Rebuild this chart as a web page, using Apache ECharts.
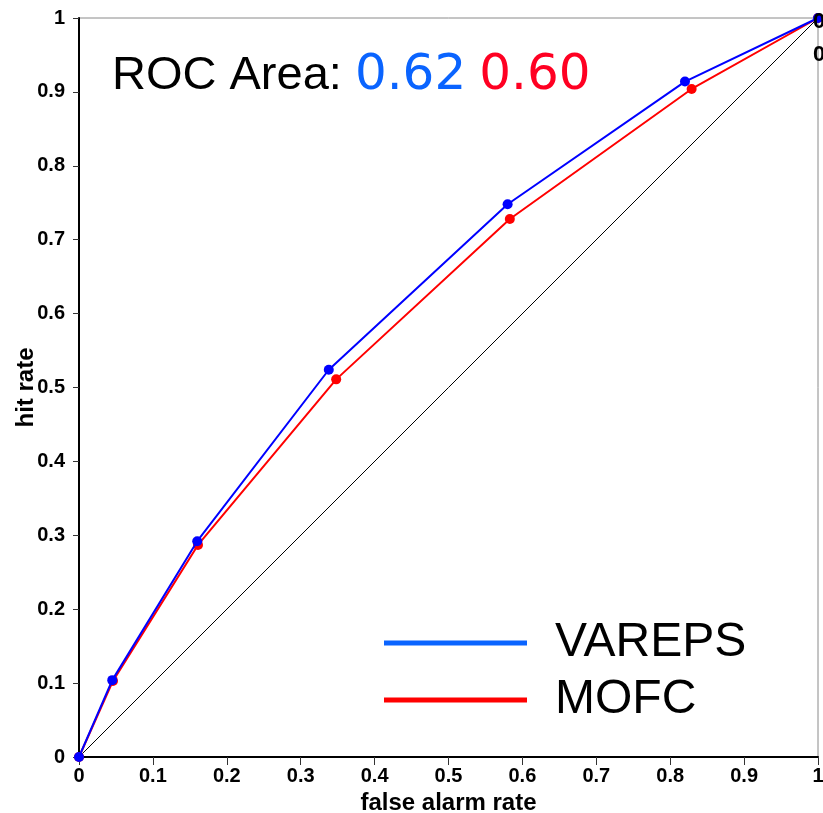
<!DOCTYPE html>
<html>
<head>
<meta charset="utf-8">
<script src="https://cdn.jsdelivr.net/npm/echarts@6/dist/echarts.min.js"></script>
<style>html,body{margin:0;padding:0;background:#fff}#c{width:823px;height:813px}</style>
</head>
<body>
<div id="c"></div>
<script>
var seriesNames = ['VAREPS', 'MOFC'];
var varepsPoints = [[0,0],[0.045,0.104],[0.160,0.292],[0.338,0.524],[0.580,0.748],[0.820,0.914],[1,1]];
var mofcPoints = [[0,0],[0.046,0.103],[0.161,0.287],[0.348,0.511],[0.583,0.728],[0.829,0.904],[1,1]];
var diagonal = [[0,0],[1,1]];
var rocAreas = ['0.62', '0.60'];
var cornerPoint = [1, 1];
var cornerLabels = ['0', '0'];

var chart = echarts.init(document.getElementById('c'));
chart.setOption({
  animation: false,
  backgroundColor: '#fff',
  grid: { left: 79, right: 5, top: 18, bottom: 56, containLabel: false, outerBoundsMode: 'none',
    show: true, borderColor: '#8a8a8a', borderWidth: 1 },
  xAxis: {
    type: 'value', min: 0, max: 1, interval: 0.1,
    name: 'false alarm rate', nameLocation: 'middle', nameGap: 29,
    nameTextStyle: { fontFamily: 'Liberation Sans', fontWeight: 'bold', fontSize: 24, color: '#000' },
    axisLine: { show: true, lineStyle: { color: '#000', width: 2 } },
    axisTick: { show: true, length: 8, lineStyle: { color: '#333', width: 1 } },
    axisLabel: { fontFamily: 'Liberation Sans', fontWeight: 'bold', fontSize: 20, color: '#000', margin: 9 },
    splitLine: { show: false }
  },
  yAxis: {
    type: 'value', min: 0, max: 1, interval: 0.1,
    name: 'hit rate', nameLocation: 'middle', nameGap: 41, nameRotate: 90, nameMoveOverlap: false,
    nameTextStyle: { fontFamily: 'Liberation Sans', fontWeight: 'bold', fontSize: 24, color: '#000' },
    axisLine: { show: true, lineStyle: { color: '#000', width: 2 } },
    axisTick: { show: true, length: 6, lineStyle: { color: '#333', width: 1 } },
    axisLabel: { fontFamily: 'Liberation Sans', fontWeight: 'bold', fontSize: 20, color: '#000', margin: 14 },
    splitLine: { show: false }
  },
  legend: {
    orient: 'vertical', left: 384, top: 618, itemGap: 7, padding: 0,
    itemWidth: 143, itemHeight: 5, icon: 'rect',
    textStyle: { fontFamily: 'Liberation Sans', fontSize: 48, color: '#000', lineHeight: 50, padding: [0, 0, 0, 23] },
    data: [
      { name: seriesNames[0], itemStyle: { color: '#0a64ff' } },
      { name: seriesNames[1], itemStyle: { color: '#ff0000' } }
    ]
  },
  graphic: [{
    type: 'text', left: 112, top: 51,
    style: {
      text: '{a|ROC Area: }{b|' + rocAreas[0] + '}{a| }{c|' + rocAreas[1] + '}',
      rich: {
        a: { fontFamily: 'Liberation Sans', fontSize: 47, fill: '#000', lineHeight: 48 },
        b: { fontFamily: 'DejaVu Sans', fontSize: 50, fill: '#0a64ff', lineHeight: 48 },
        c: { fontFamily: 'DejaVu Sans', fontSize: 50, fill: '#ff0022', lineHeight: 48 }
      }
    }
  }],
  series: [
    {
      name: 'diag', type: 'line', data: diagonal, symbol: 'none', silent: true,
      lineStyle: { color: '#000', width: 1 }, z: 1
    },
    {
      name: seriesNames[1], type: 'line', data: mofcPoints, symbol: 'circle', symbolSize: 10,
      lineStyle: { color: '#ff0000', width: 2 }, itemStyle: { color: '#ff0000' }, z: 2
    },
    {
      name: seriesNames[0], type: 'line', data: varepsPoints, symbol: 'circle', symbolSize: 10,
      lineStyle: { color: '#0000ff', width: 2 }, itemStyle: { color: '#0000ff' }, z: 3
    }
  ]
});

var p = chart.convertToPixel({ gridIndex: 0 }, cornerPoint);
chart.setOption({
  graphic: [
    { id: 'c0', type: 'text', x: p[0] + 1, y: p[1] + 4, z: 100,
      style: { text: cornerLabels[0], fill: '#000', font: 'bold 22px "Liberation Sans"', align: 'center', verticalAlign: 'middle' } },
    { id: 'c1', type: 'text', x: p[0] + 1, y: p[1] + 37, z: 100,
      style: { text: cornerLabels[1], fill: '#000', font: 'bold 22px "Liberation Sans"', align: 'center', verticalAlign: 'middle' } }
  ]
});
</script>
</body>
</html>
